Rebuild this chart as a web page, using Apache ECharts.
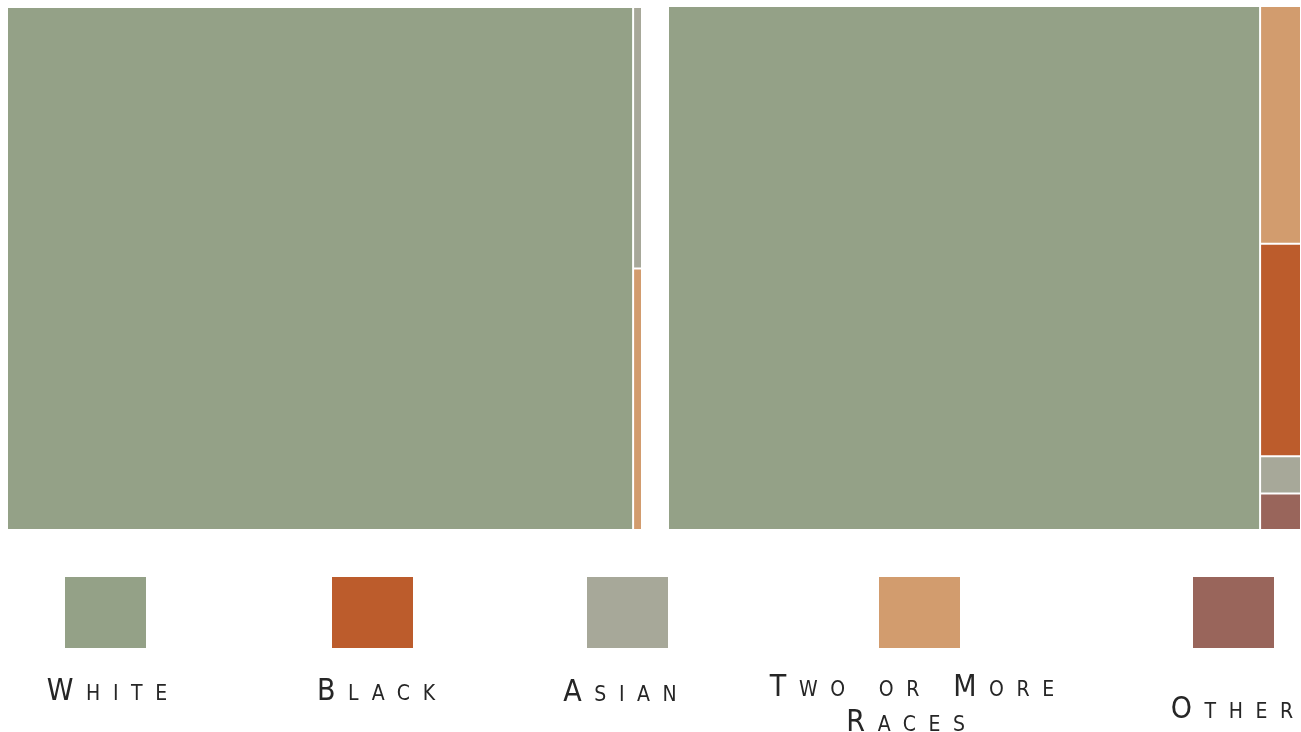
<!DOCTYPE html>
<html>
<head>
<meta charset="utf-8">
<script src="https://cdn.jsdelivr.net/npm/echarts@6/dist/echarts.min.js"></script>
<style>
  html, body { margin: 0; padding: 0; background: #fff; }
  #wrap { position: relative; width: 1301px; height: 732px; overflow: hidden; }
  #chart { position: absolute; left: 0; top: 0; width: 1301px; height: 732px; }
  .lbl { position: absolute; text-align: center; color: #262626;
         font-family: "Liberation Sans Narrow", "DejaVu Sans Condensed", sans-serif;
         font-variant: small-caps; font-size: 30px; letter-spacing: 0.42em; line-height: 35px;
         white-space: normal; }
</style>
</head>
<body>
<div id="wrap"><div id="chart"></div></div>
<script>
// ---- data ----
const categories = ['White', 'Black', 'Asian', 'Two or More Races', 'Other'];
const colors = ['#94a187', '#bc5c2c', '#a7a899', '#d29c6e', '#99655b'];
// left treemap (order as drawn)
const leftNames = ['White', 'Asian', 'Two or More Races'];
const leftValues = [98.6, 0.70, 0.70];
// right treemap
const rightNames = ['White', 'Two or More Races', 'Black', 'Asian', 'Other'];
const rightValues = [93.5, 2.93, 2.62, 0.46, 0.45];

const colorOf = n => colors[categories.indexOf(n)];
const mk = (names, vals) => names.map((n, i) => ({ name: n, value: vals[i], itemStyle: { color: colorOf(n) } }));

const chart = echarts.init(document.getElementById('chart'), null, { renderer: 'canvas' });
const base = {
  type: 'treemap', roam: false, nodeClick: false, sort: false,
  breadcrumb: { show: false },
  label: { show: false }, upperLabel: { show: false },
  squareRatio: 0.5 * (1 + Math.sqrt(5)),
  itemStyle: { borderColor: '#fff', borderWidth: 1, gapWidth: 0 },
  emphasis: { disabled: true },
  animation: false
};
// legend squares (layout only)
const legendX = [65, 332, 587, 879, 1193];
const graphics = categories.map((c, i) => ({
  type: 'rect', shape: { x: legendX[i], y: 577, width: 81, height: 71 },
  style: { fill: colors[i] }, silent: true
}));
chart.setOption({
  animation: false,
  tooltip: { show: false },
  graphic: graphics,
  series: [
    Object.assign({}, base, { left: 6, top: 6, width: 637, height: 525, data: mk(leftNames, leftValues) }),
    Object.assign({}, base, { left: 667, top: 5, width: 635, height: 526, data: mk(rightNames, rightValues) })
  ]
});

// legend labels
const labelCenterX = [107, 376, 620, 912, 1232];
const labelTop = [672, 672, 673, 668, 690];
const labelWidth = [200, 200, 200, 360, 200];
categories.forEach((c, i) => {
  const d = document.createElement('div');
  d.className = 'lbl';
  d.textContent = c;
  d.style.width = labelWidth[i] + 'px';
  d.style.left = (labelCenterX[i] - labelWidth[i] / 2) + 'px';
  d.style.top = labelTop[i] + 'px';
  d.style.textIndent = '0.42em';
  document.getElementById('wrap').appendChild(d);
});
</script>
</body>
</html>
